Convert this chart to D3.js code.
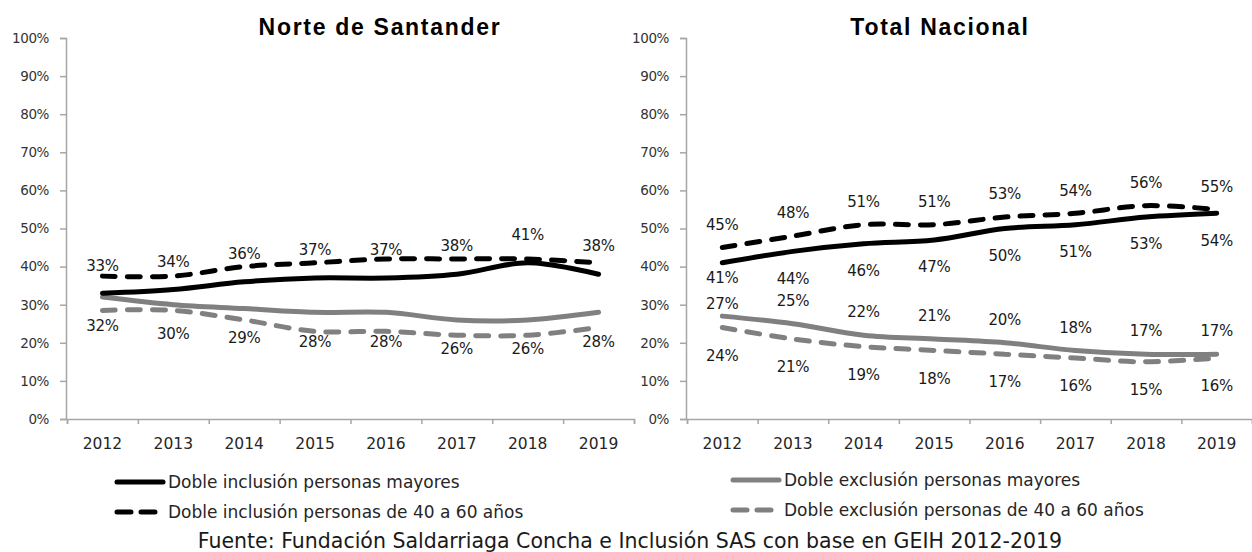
<!DOCTYPE html>
<html>
<head>
<meta charset="utf-8">
<script src="https://cdn.jsdelivr.net/npm/d3@7"></script>
<style>
  body { margin: 0; background: #fff; }
  svg { display: block; }
</style>
</head>
<body>
<svg class="chart"></svg>
<script>
var years = ['2012', '2013', '2014', '2015', '2016', '2017', '2018', '2019'];
var yTicks = [0, 10, 20, 30, 40, 50, 60, 70, 80, 90, 100];

// Norte de Santander
var nsInclMayores = [33, 34, 36, 37, 37, 38, 41, 38];
var nsIncl4060 = [37.5, 37.5, 40, 41, 42, 42, 42, 41];
var nsExclMayores = [32, 30, 29, 28, 28, 26, 26, 28];
var nsExcl4060 = [28.5, 28.5, 26, 23, 23, 22, 22, 24];

// Total Nacional
var tnInclMayores = [41, 44, 46, 47, 50, 51, 53, 54];
var tnIncl4060 = [45, 48, 51, 51, 53, 54, 56, 55];
var tnExclMayores = [27, 25, 22, 21, 20, 18, 17, 17];
var tnExcl4060 = [24, 21, 19, 18, 17, 16, 15, 16];

var svgWidth = 1252, svgHeight = 552;
var font = "'DejaVu Sans', sans-serif";

var svg = d3.select('svg.chart')
    .attr('width', svgWidth)
    .attr('height', svgHeight);

function panel(title, titleX, x0, x1, series) {
    var xScale = d3.scaleBand().domain(years).range([x0, x1]);
    var yScale = d3.scaleLinear().domain([0, 100]).range([419, 38]);

    svg.append('text')
        .attr('x', titleX)
        .attr('y', 35)
        .attr('text-anchor', 'middle')
        .style('font-family', "'Liberation Sans', Arial, sans-serif")
        .style('font-weight', 'bold')
        .style('font-size', '23px')
        .style('letter-spacing', '1.7px')
        .text(title);

    // y axis
    var yAxis = svg.append('g')
        .attr('transform', 'translate(' + (x0 - 1) + ',0)')
        .call(d3.axisLeft(yScale).tickValues(yTicks).tickSize(6).tickPadding(11)
            .tickFormat(function (d) { return d + '%'; }));
    yAxis.selectAll('path, line').attr('stroke', '#a6a6a6').attr('stroke-width', 1.5);
    yAxis.selectAll('text')
        .style('font-family', font)
        .style('font-size', '13.5px')
        .style('letter-spacing', '-0.4px')
        .attr('fill', '#333');

    // x axis: tick marks at category boundaries
    var edge = d3.scaleLinear().domain([0, years.length]).range([x0, x1]);
    var xTicks = svg.append('g')
        .attr('transform', 'translate(0,419)')
        .call(d3.axisBottom(edge).tickValues(d3.range(years.length + 1)).tickSize(5).tickFormat(''));
    xTicks.selectAll('path, line').attr('stroke', '#a6a6a6').attr('stroke-width', 1.5);

    var xLabels = svg.append('g')
        .attr('transform', 'translate(0,419)')
        .call(d3.axisBottom(xScale).tickSize(0));
    xLabels.select('path').remove();
    xLabels.selectAll('text')
        .attr('y', 19)
        .style('font-family', font)
        .style('font-size', '15.5px')
        .attr('fill', '#262626');

    var line = d3.line()
        .x(function (d, i) { return xScale(years[i]) + xScale.bandwidth() / 2; })
        .y(function (d) { return yScale(d); })
        .curve(d3.curveCatmullRom.alpha(0.5));

    series.forEach(function (s) {
        svg.append('path')
            .datum(s.values)
            .attr('d', line)
            .style('fill', 'none')
            .style('stroke', s.color)
            .style('stroke-width', 5)
            .style('stroke-linecap', 'round')
            .style('stroke-dasharray', s.dashed ? '13,12' : null);
    });

    series.filter(function (s) { return s.labelDy !== null; }).forEach(function (s) {
        svg.append('g')
            .selectAll('text')
            .data(s.values)
            .enter()
            .append('text')
            .attr('x', function (d, i) { return xScale(years[i]) + xScale.bandwidth() / 2; })
            .attr('y', function (d, i) {
                var dy = (i === 0 && s.firstDy !== undefined) ? s.firstDy : s.labelDy;
                return yScale(d) + dy;
            })
            .attr('dy', '0.35em')
            .attr('text-anchor', 'middle')
            .style('font-family', font)
            .style('font-size', '15px')
            .style('letter-spacing', '-0.3px')
            .attr('fill', '#1a1a1a')
            .text(function (d) { return Math.round(d) + '%'; });
    });
}

panel('Norte de Santander', 380, 67, 634, [
    { values: nsExcl4060, color: '#808080', dashed: true, labelDy: null },
    { values: nsExclMayores, color: '#808080', dashed: false, labelDy: 29 },
    { values: nsIncl4060, color: '#000', dashed: true, labelDy: null },
    { values: nsInclMayores, color: '#000', dashed: false, labelDy: -28 }
]);

panel('Total Nacional', 940, 687, 1252, [
    { values: tnExcl4060, color: '#808080', dashed: true, labelDy: 28 },
    { values: tnExclMayores, color: '#808080', dashed: false, labelDy: -23, firstDy: -12 },
    { values: tnIncl4060, color: '#000', dashed: true, labelDy: -23 },
    { values: tnInclMayores, color: '#000', dashed: false, labelDy: 27, firstDy: 15 }
]);

// legends
var legendItems = [
    { name: 'Doble inclusión personas mayores', color: '#000', dashed: false, x: 115, y: 482 },
    { name: 'Doble inclusión personas de 40 a 60 años', color: '#000', dashed: true, x: 115, y: 512 },
    { name: 'Doble exclusión personas mayores', color: '#808080', dashed: false, x: 731, y: 480 },
    { name: 'Doble exclusión personas de 40 a 60 años', color: '#808080', dashed: true, x: 731, y: 510 }
];

var legend = svg.append('g')
    .selectAll('g')
    .data(legendItems)
    .enter()
    .append('g')
    .attr('transform', function (d) { return 'translate(' + d.x + ',' + d.y + ')'; });

legend.append('line')
    .attr('x1', 2).attr('x2', 48)
    .attr('stroke', function (d) { return d.color; })
    .attr('stroke-width', 5)
    .attr('stroke-linecap', 'round')
    .attr('stroke-dasharray', function (d) { return d.dashed ? '14,10' : null; });

legend.append('text')
    .attr('x', 53)
    .attr('dy', '0.35em')
    .style('font-family', font)
    .style('font-size', '17px')
    .attr('fill', '#262626')
    .text(function (d) { return d.name; });

// source
svg.append('text')
    .attr('x', 630)
    .attr('y', 548)
    .attr('text-anchor', 'middle')
    .style('font-family', font)
    .style('font-size', '20.5px')
    .attr('fill', '#1a1a1a')
    .text('Fuente: Fundación Saldarriaga Concha e Inclusión SAS con base en GEIH 2012-2019');
</script>
</body>
</html>
